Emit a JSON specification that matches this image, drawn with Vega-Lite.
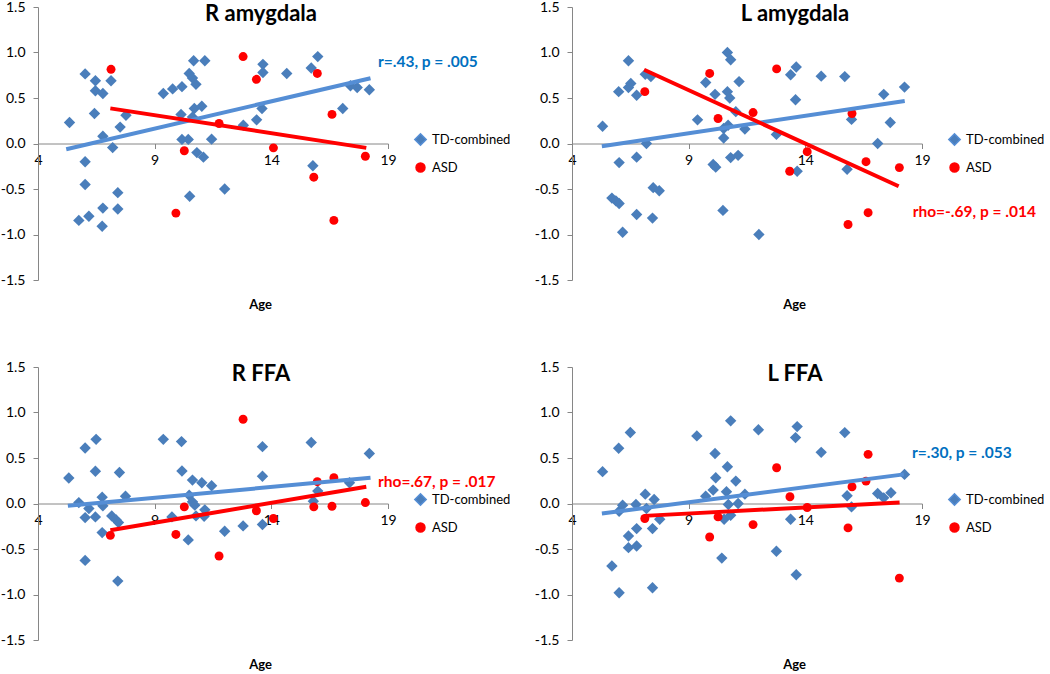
{
  "$schema": "https://vega.github.io/schema/vega-lite/v6.json",
  "padding": {"top": 0, "left": 0, "right": 0, "bottom": 0},
  "background": "white",
  "config": {
    "view": {"stroke": null},
    "font": "Lato",
    "axis": {"grid": false, "domainColor": "#868686", "tickColor": "#868686", "labelColor": "#000000", "labelFont": "Lato", "labelFontSize": 14, "titleFont": "Lato", "titleColor": "#000000"},
    "legend": {"labelFont": "Lato", "labelColor": "#000000"},
    "title": {"font": "Lato", "fontSize": 22, "fontWeight": "bold", "color": "#000000", "anchor": "middle", "dx": 48, "dy": 30}
  },
  "datasets": {
    "pts": [
      {"panel":"RA","group":"TD-combined","age":5.35,"value":0.23},{"panel":"RA","group":"TD-combined","age":6.02,"value":0.765},{"panel":"RA","group":"TD-combined","age":6.02,"value":-0.2},{"panel":"RA","group":"TD-combined","age":6.02,"value":-0.45},{"panel":"RA","group":"TD-combined","age":5.75,"value":-0.845},{"panel":"RA","group":"TD-combined","age":6.18,"value":-0.8},{"panel":"RA","group":"TD-combined","age":6.46,"value":0.69},{"panel":"RA","group":"TD-combined","age":6.46,"value":0.58},{"panel":"RA","group":"TD-combined","age":6.42,"value":0.33},{"panel":"RA","group":"TD-combined","age":6.78,"value":0.55},{"panel":"RA","group":"TD-combined","age":6.78,"value":0.08},{"panel":"RA","group":"TD-combined","age":6.78,"value":-0.71},{"panel":"RA","group":"TD-combined","age":6.75,"value":-0.91},{"panel":"RA","group":"TD-combined","age":7.13,"value":0.69},{"panel":"RA","group":"TD-combined","age":7.2,"value":-0.045},{"panel":"RA","group":"TD-combined","age":7.52,"value":0.18},{"panel":"RA","group":"TD-combined","age":7.42,"value":-0.54},{"panel":"RA","group":"TD-combined","age":7.42,"value":-0.72},{"panel":"RA","group":"TD-combined","age":7.77,"value":0.31},{"panel":"RA","group":"TD-combined","age":9.37,"value":0.55},{"panel":"RA","group":"TD-combined","age":9.77,"value":0.6},{"panel":"RA","group":"TD-combined","age":10.17,"value":0.625},{"panel":"RA","group":"TD-combined","age":10.13,"value":0.32},{"panel":"RA","group":"TD-combined","age":10.17,"value":0.045},{"panel":"RA","group":"TD-combined","age":10.44,"value":0.045},{"panel":"RA","group":"TD-combined","age":10.48,"value":0.77},{"panel":"RA","group":"TD-combined","age":10.62,"value":0.72},{"panel":"RA","group":"TD-combined","age":10.67,"value":0.91},{"panel":"RA","group":"TD-combined","age":10.77,"value":0.65},{"panel":"RA","group":"TD-combined","age":10.7,"value":0.385},{"panel":"RA","group":"TD-combined","age":10.62,"value":0.29},{"panel":"RA","group":"TD-combined","age":11.02,"value":0.41},{"panel":"RA","group":"TD-combined","age":10.81,"value":-0.1},{"panel":"RA","group":"TD-combined","age":11.09,"value":-0.15},{"panel":"RA","group":"TD-combined","age":11.15,"value":0.91},{"panel":"RA","group":"TD-combined","age":10.5,"value":-0.58},{"panel":"RA","group":"TD-combined","age":11.44,"value":0.048},{"panel":"RA","group":"TD-combined","age":12.0,"value":-0.5},{"panel":"RA","group":"TD-combined","age":12.8,"value":0.2},{"panel":"RA","group":"TD-combined","age":13.37,"value":0.26},{"panel":"RA","group":"TD-combined","age":13.6,"value":0.385},{"panel":"RA","group":"TD-combined","age":13.64,"value":0.78},{"panel":"RA","group":"TD-combined","age":13.64,"value":0.87},{"panel":"RA","group":"TD-combined","age":14.66,"value":0.77},{"panel":"RA","group":"TD-combined","age":15.71,"value":0.83},{"panel":"RA","group":"TD-combined","age":15.99,"value":0.955},{"panel":"RA","group":"TD-combined","age":15.78,"value":-0.245},{"panel":"RA","group":"TD-combined","age":17.06,"value":0.385},{"panel":"RA","group":"TD-combined","age":17.39,"value":0.635},{"panel":"RA","group":"TD-combined","age":17.68,"value":0.615},{"panel":"RA","group":"TD-combined","age":18.2,"value":0.59},
      {"panel":"RA","group":"ASD","age":7.13,"value":0.815},{"panel":"RA","group":"ASD","age":9.91,"value":-0.765},{"panel":"RA","group":"ASD","age":10.27,"value":-0.08},{"panel":"RA","group":"ASD","age":11.76,"value":0.22},{"panel":"RA","group":"ASD","age":12.79,"value":0.955},{"panel":"RA","group":"ASD","age":13.36,"value":0.705},{"panel":"RA","group":"ASD","age":14.09,"value":-0.048},{"panel":"RA","group":"ASD","age":15.82,"value":-0.37},{"panel":"RA","group":"ASD","age":15.97,"value":0.77},{"panel":"RA","group":"ASD","age":16.6,"value":0.32},{"panel":"RA","group":"ASD","age":16.68,"value":-0.845},{"panel":"RA","group":"ASD","age":18.03,"value":-0.14},

      {"panel":"LA","group":"TD-combined","age":5.31,"value":0.19},{"panel":"LA","group":"TD-combined","age":5.71,"value":-0.6},{"panel":"LA","group":"TD-combined","age":5.88,"value":-0.63},{"panel":"LA","group":"TD-combined","age":6.02,"value":-0.66},{"panel":"LA","group":"TD-combined","age":6.0,"value":0.57},{"panel":"LA","group":"TD-combined","age":6.02,"value":-0.21},{"panel":"LA","group":"TD-combined","age":6.17,"value":-0.975},{"panel":"LA","group":"TD-combined","age":6.42,"value":0.91},{"panel":"LA","group":"TD-combined","age":6.42,"value":0.615},{"panel":"LA","group":"TD-combined","age":6.52,"value":0.66},{"panel":"LA","group":"TD-combined","age":6.77,"value":0.53},{"panel":"LA","group":"TD-combined","age":6.77,"value":-0.15},{"panel":"LA","group":"TD-combined","age":6.77,"value":-0.78},{"panel":"LA","group":"TD-combined","age":7.14,"value":0.76},{"panel":"LA","group":"TD-combined","age":7.19,"value":0.0},{"panel":"LA","group":"TD-combined","age":7.38,"value":0.735},{"panel":"LA","group":"TD-combined","age":7.48,"value":-0.485},{"panel":"LA","group":"TD-combined","age":7.74,"value":-0.52},{"panel":"LA","group":"TD-combined","age":7.45,"value":-0.82},{"panel":"LA","group":"TD-combined","age":9.38,"value":0.26},{"panel":"LA","group":"TD-combined","age":9.73,"value":0.67},{"panel":"LA","group":"TD-combined","age":10.13,"value":0.54},{"panel":"LA","group":"TD-combined","age":10.05,"value":-0.23},{"panel":"LA","group":"TD-combined","age":10.16,"value":-0.26},{"panel":"LA","group":"TD-combined","age":10.5,"value":0.06},{"panel":"LA","group":"TD-combined","age":10.5,"value":0.165},{"panel":"LA","group":"TD-combined","age":10.47,"value":-0.735},{"panel":"LA","group":"TD-combined","age":10.66,"value":1.0},{"panel":"LA","group":"TD-combined","age":10.8,"value":0.92},{"panel":"LA","group":"TD-combined","age":10.66,"value":0.57},{"panel":"LA","group":"TD-combined","age":10.76,"value":0.5},{"panel":"LA","group":"TD-combined","age":10.69,"value":0.2},{"panel":"LA","group":"TD-combined","age":10.8,"value":-0.155},{"panel":"LA","group":"TD-combined","age":11.02,"value":0.35},{"panel":"LA","group":"TD-combined","age":11.12,"value":-0.13},{"panel":"LA","group":"TD-combined","age":11.16,"value":0.68},{"panel":"LA","group":"TD-combined","age":11.41,"value":0.158},{"panel":"LA","group":"TD-combined","age":12.01,"value":-1.0},{"panel":"LA","group":"TD-combined","age":12.76,"value":0.1},{"panel":"LA","group":"TD-combined","age":13.37,"value":0.755},{"panel":"LA","group":"TD-combined","age":13.61,"value":0.84},{"panel":"LA","group":"TD-combined","age":13.58,"value":0.48},{"panel":"LA","group":"TD-combined","age":13.65,"value":-0.305},{"panel":"LA","group":"TD-combined","age":14.68,"value":0.74},{"panel":"LA","group":"TD-combined","age":15.69,"value":0.735},{"panel":"LA","group":"TD-combined","age":15.79,"value":-0.283},{"panel":"LA","group":"TD-combined","age":15.98,"value":0.265},{"panel":"LA","group":"TD-combined","age":17.1,"value":0.0},{"panel":"LA","group":"TD-combined","age":17.36,"value":0.54},{"panel":"LA","group":"TD-combined","age":17.64,"value":0.23},{"panel":"LA","group":"TD-combined","age":18.25,"value":0.62},
      {"panel":"LA","group":"ASD","age":7.12,"value":0.57},{"panel":"LA","group":"ASD","age":9.9,"value":0.77},{"panel":"LA","group":"ASD","age":10.26,"value":0.275},{"panel":"LA","group":"ASD","age":11.76,"value":0.34},{"panel":"LA","group":"ASD","age":12.77,"value":0.82},{"panel":"LA","group":"ASD","age":13.33,"value":-0.305},{"panel":"LA","group":"ASD","age":14.08,"value":-0.09},{"panel":"LA","group":"ASD","age":15.83,"value":-0.89},{"panel":"LA","group":"ASD","age":16.0,"value":0.33},{"panel":"LA","group":"ASD","age":16.6,"value":-0.2},{"panel":"LA","group":"ASD","age":16.69,"value":-0.76},{"panel":"LA","group":"ASD","age":18.03,"value":-0.265},

      {"panel":"RF","group":"TD-combined","age":5.32,"value":0.28},{"panel":"RF","group":"TD-combined","age":5.75,"value":0.01},{"panel":"RF","group":"TD-combined","age":6.02,"value":0.61},{"panel":"RF","group":"TD-combined","age":6.02,"value":-0.155},{"panel":"RF","group":"TD-combined","age":6.02,"value":-0.625},{"panel":"RF","group":"TD-combined","age":6.18,"value":-0.055},{"panel":"RF","group":"TD-combined","age":6.49,"value":0.705},{"panel":"RF","group":"TD-combined","age":6.46,"value":0.355},{"panel":"RF","group":"TD-combined","age":6.46,"value":-0.147},{"panel":"RF","group":"TD-combined","age":6.75,"value":0.07},{"panel":"RF","group":"TD-combined","age":6.78,"value":-0.026},{"panel":"RF","group":"TD-combined","age":6.75,"value":-0.32},{"panel":"RF","group":"TD-combined","age":7.16,"value":-0.136},{"panel":"RF","group":"TD-combined","age":7.35,"value":-0.18},{"panel":"RF","group":"TD-combined","age":7.45,"value":-0.21},{"panel":"RF","group":"TD-combined","age":7.49,"value":0.34},{"panel":"RF","group":"TD-combined","age":7.42,"value":-0.853},{"panel":"RF","group":"TD-combined","age":7.75,"value":0.08},{"panel":"RF","group":"TD-combined","age":9.37,"value":0.705},{"panel":"RF","group":"TD-combined","age":9.74,"value":-0.147},{"panel":"RF","group":"TD-combined","age":10.15,"value":0.68},{"panel":"RF","group":"TD-combined","age":10.17,"value":0.357},{"panel":"RF","group":"TD-combined","age":10.48,"value":0.09},{"panel":"RF","group":"TD-combined","age":10.44,"value":-0.4},{"panel":"RF","group":"TD-combined","age":10.62,"value":0.257},{"panel":"RF","group":"TD-combined","age":10.62,"value":0.018},{"panel":"RF","group":"TD-combined","age":10.72,"value":-0.018},{"panel":"RF","group":"TD-combined","age":10.77,"value":-0.136},{"panel":"RF","group":"TD-combined","age":11.02,"value":0.228},{"panel":"RF","group":"TD-combined","age":11.12,"value":-0.14},{"panel":"RF","group":"TD-combined","age":11.15,"value":-0.07},{"panel":"RF","group":"TD-combined","age":11.44,"value":0.195},{"panel":"RF","group":"TD-combined","age":12.0,"value":-0.305},{"panel":"RF","group":"TD-combined","age":12.79,"value":-0.246},{"panel":"RF","group":"TD-combined","age":13.62,"value":0.625},{"panel":"RF","group":"TD-combined","age":13.62,"value":0.3},{"panel":"RF","group":"TD-combined","age":13.62,"value":-0.23},{"panel":"RF","group":"TD-combined","age":15.71,"value":0.67},{"panel":"RF","group":"TD-combined","age":15.8,"value":0.026},{"panel":"RF","group":"TD-combined","age":15.99,"value":0.136},{"panel":"RF","group":"TD-combined","age":17.35,"value":0.228},{"panel":"RF","group":"TD-combined","age":18.2,"value":0.55},
      {"panel":"RF","group":"ASD","age":7.1,"value":-0.35},{"panel":"RF","group":"ASD","age":9.91,"value":-0.34},{"panel":"RF","group":"ASD","age":10.27,"value":-0.037},{"panel":"RF","group":"ASD","age":11.76,"value":-0.577},{"panel":"RF","group":"ASD","age":12.79,"value":0.926},{"panel":"RF","group":"ASD","age":13.36,"value":-0.08},{"panel":"RF","group":"ASD","age":14.09,"value":-0.165},{"panel":"RF","group":"ASD","age":15.82,"value":-0.037},{"panel":"RF","group":"ASD","age":15.97,"value":0.24},{"panel":"RF","group":"ASD","age":16.6,"value":-0.03},{"panel":"RF","group":"ASD","age":16.68,"value":0.283},{"panel":"RF","group":"ASD","age":18.03,"value":0.01},

      {"panel":"LF","group":"TD-combined","age":5.31,"value":0.35},{"panel":"LF","group":"TD-combined","age":5.71,"value":-0.687},{"panel":"LF","group":"TD-combined","age":6.0,"value":0.607},{"panel":"LF","group":"TD-combined","age":6.02,"value":-0.98},{"panel":"LF","group":"TD-combined","age":6.02,"value":-0.085},{"panel":"LF","group":"TD-combined","age":6.17,"value":-0.018},{"panel":"LF","group":"TD-combined","age":6.42,"value":-0.357},{"panel":"LF","group":"TD-combined","age":6.42,"value":-0.485},{"panel":"LF","group":"TD-combined","age":6.5,"value":0.78},{"panel":"LF","group":"TD-combined","age":6.74,"value":-0.011},{"panel":"LF","group":"TD-combined","age":6.77,"value":-0.276},{"panel":"LF","group":"TD-combined","age":6.77,"value":-0.467},{"panel":"LF","group":"TD-combined","age":7.14,"value":0.103},{"panel":"LF","group":"TD-combined","age":7.19,"value":-0.055},{"panel":"LF","group":"TD-combined","age":7.45,"value":-0.276},{"panel":"LF","group":"TD-combined","age":7.45,"value":-0.926},{"panel":"LF","group":"TD-combined","age":7.52,"value":0.044},{"panel":"LF","group":"TD-combined","age":7.76,"value":-0.173},{"panel":"LF","group":"TD-combined","age":9.35,"value":0.743},{"panel":"LF","group":"TD-combined","age":9.73,"value":0.081},{"panel":"LF","group":"TD-combined","age":10.05,"value":0.147},{"panel":"LF","group":"TD-combined","age":10.13,"value":0.55},{"panel":"LF","group":"TD-combined","age":10.16,"value":0.283},{"panel":"LF","group":"TD-combined","age":10.42,"value":-0.6},{"panel":"LF","group":"TD-combined","age":10.52,"value":-0.173},{"panel":"LF","group":"TD-combined","age":10.62,"value":0.129},{"panel":"LF","group":"TD-combined","age":10.66,"value":0.404},{"panel":"LF","group":"TD-combined","age":10.8,"value":0.908},{"panel":"LF","group":"TD-combined","age":10.7,"value":-0.011},{"panel":"LF","group":"TD-combined","age":10.8,"value":-0.129},{"panel":"LF","group":"TD-combined","age":11.02,"value":0.246},{"panel":"LF","group":"TD-combined","age":11.12,"value":0.0},{"panel":"LF","group":"TD-combined","age":11.41,"value":0.103},{"panel":"LF","group":"TD-combined","age":11.99,"value":0.81},{"panel":"LF","group":"TD-combined","age":12.76,"value":-0.525},{"panel":"LF","group":"TD-combined","age":13.37,"value":-0.173},{"panel":"LF","group":"TD-combined","age":13.58,"value":0.724},{"panel":"LF","group":"TD-combined","age":13.65,"value":0.845},{"panel":"LF","group":"TD-combined","age":13.61,"value":-0.783},{"panel":"LF","group":"TD-combined","age":14.68,"value":0.562},{"panel":"LF","group":"TD-combined","age":15.69,"value":0.779},{"panel":"LF","group":"TD-combined","age":15.79,"value":0.085},{"panel":"LF","group":"TD-combined","age":15.98,"value":-0.037},{"panel":"LF","group":"TD-combined","age":17.1,"value":0.11},{"panel":"LF","group":"TD-combined","age":17.36,"value":0.062},{"panel":"LF","group":"TD-combined","age":17.67,"value":0.118},{"panel":"LF","group":"TD-combined","age":18.25,"value":0.32},
      {"panel":"LF","group":"ASD","age":7.12,"value":-0.165},{"panel":"LF","group":"ASD","age":9.9,"value":-0.368},{"panel":"LF","group":"ASD","age":10.26,"value":-0.147},{"panel":"LF","group":"ASD","age":11.76,"value":-0.232},{"panel":"LF","group":"ASD","age":12.77,"value":0.393},{"panel":"LF","group":"ASD","age":13.34,"value":0.074},{"panel":"LF","group":"ASD","age":14.08,"value":-0.044},{"panel":"LF","group":"ASD","age":15.83,"value":-0.268},{"panel":"LF","group":"ASD","age":16.0,"value":0.184},{"panel":"LF","group":"ASD","age":16.6,"value":0.246},{"panel":"LF","group":"ASD","age":16.69,"value":0.54},{"panel":"LF","group":"ASD","age":18.03,"value":-0.82}
    ],
    "lines": [
      {"panel":"RA","group":"TD-combined","age":5.21,"value":-0.0625},{"panel":"RA","group":"TD-combined","age":18.25,"value":0.717},
      {"panel":"RA","group":"ASD","age":7.1,"value":0.386},{"panel":"RA","group":"ASD","age":18.07,"value":-0.048},
      {"panel":"LA","group":"TD-combined","age":5.28,"value":-0.03},{"panel":"LA","group":"TD-combined","age":18.26,"value":0.467},
      {"panel":"LA","group":"ASD","age":7.09,"value":0.81},{"panel":"LA","group":"ASD","age":18.0,"value":-0.47},
      {"panel":"RF","group":"TD-combined","age":5.28,"value":-0.026},{"panel":"RF","group":"TD-combined","age":18.25,"value":0.283},
      {"panel":"RF","group":"ASD","age":7.1,"value":-0.294},{"panel":"RF","group":"ASD","age":18.07,"value":0.184},
      {"panel":"LF","group":"TD-combined","age":5.28,"value":-0.11},{"panel":"LF","group":"TD-combined","age":18.22,"value":0.32},
      {"panel":"LF","group":"ASD","age":7.09,"value":-0.136},{"panel":"LF","group":"ASD","age":18.04,"value":0.011}
    ],
    "notes": [
      {"panel":"RA","label":"r=.43, p = .005","age":18.57,"value":0.9},
      {"panel":"LA","label":"rho=-.69, p = .014","age":18.6,"value":-0.75},
      {"panel":"RF","label":"rho=.67, p = .017","age":18.57,"value":0.24},
      {"panel":"LF","label":"r=.30, p = .053","age":18.57,"value":0.55}
    ]
  },
  "resolve": {"scale": {"color": "independent", "shape": "independent", "size": "independent", "stroke": "independent"}},
  "spacing": 48,
  "vconcat": [
    {
      "spacing": 23,
      "resolve": {"scale": {"color": "independent", "shape": "independent", "size": "independent", "stroke": "independent"}},
      "hconcat": [
        {
          "width": 350, "height": 273,
          "title": {"text": "R amygdala"},
          "layer": [
            {"data": {"name": "pts"}, "transform": [{"filter": "datum.panel === 'RA'"}],
             "mark": {"type": "point", "filled": true, "opacity": 1, "strokeWidth": 0},
             "encoding": {
               "x": {"field": "age", "type": "quantitative", "scale": {"domain": [4, 19], "nice": false, "zero": false},
                     "axis": {"values": [4, 9, 14, 19], "offset": -136.5, "tickSize": 5, "labelPadding": 5, "labelFlush": false, "title": "Age", "titleFontSize": 13, "titleFontWeight": "bold", "titleX": 222, "titleY": 155}},
               "y": {"field": "value", "type": "quantitative", "scale": {"domain": [-1.5, 1.5], "nice": false},
                     "axis": {"values": [-1.5, -1, -0.5, 0, 0.5, 1, 1.5], "labelExpr": "replace(format(datum.value, '.1f'), '\u2212', '-')", "tickSize": 5, "labelPadding": 8, "title": null}},
               "color": {"field": "group", "type": "nominal", "scale": {"domain": ["TD-combined", "ASD"], "range": ["#4A7EBB", "#FF0000"]},
                         "legend": {"orient": "none", "legendX": 376, "legendY": 126, "title": null, "labelFontSize": 13, "symbolSize": 90, "rowPadding": 11, "labelOffset": 5, "padding": 0}},
               "shape": {"field": "group", "type": "nominal", "scale": {"domain": ["TD-combined", "ASD"], "range": ["diamond", "circle"]}},
               "size": {"field": "group", "type": "nominal", "scale": {"domain": ["TD-combined", "ASD"], "range": [130, 80]}, "legend": null}
             }},
            {"data": {"name": "lines"}, "transform": [{"filter": "datum.panel === 'RA'"}],
             "mark": {"type": "line", "strokeWidth": 4, "strokeCap": "butt"},
             "encoding": {
               "x": {"field": "age", "type": "quantitative"},
               "y": {"field": "value", "type": "quantitative"},
               "stroke": {"field": "group", "type": "nominal", "sort": null, "scale": {"domain": ["TD-combined", "ASD"], "range": ["#558ED5", "#FF0000"]}, "legend": null}
             }},
            {"data": {"name": "notes"}, "transform": [{"filter": "datum.panel === 'RA'"}],
             "mark": {"type": "text", "align": "left", "baseline": "middle", "fontSize": 15.5, "fontWeight": "bold", "color": "#0070C0"},
             "encoding": {"x": {"field": "age", "type": "quantitative"}, "y": {"field": "value", "type": "quantitative"}, "text": {"field": "label"}}}
          ]
        },
        {
          "width": 350, "height": 273,
          "title": {"text": "L amygdala"},
          "layer": [
            {"data": {"name": "pts"}, "transform": [{"filter": "datum.panel === 'LA'"}],
             "mark": {"type": "point", "filled": true, "opacity": 1, "strokeWidth": 0},
             "encoding": {
               "x": {"field": "age", "type": "quantitative", "scale": {"domain": [4, 19], "nice": false, "zero": false},
                     "axis": {"values": [4, 9, 14, 19], "offset": -136.5, "tickSize": 5, "labelPadding": 5, "labelFlush": false, "title": "Age", "titleFontSize": 13, "titleFontWeight": "bold", "titleX": 222, "titleY": 155}},
               "y": {"field": "value", "type": "quantitative", "scale": {"domain": [-1.5, 1.5], "nice": false},
                     "axis": {"values": [-1.5, -1, -0.5, 0, 0.5, 1, 1.5], "labelExpr": "replace(format(datum.value, '.1f'), '\u2212', '-')", "tickSize": 5, "labelPadding": 8, "title": null}},
               "color": {"field": "group", "type": "nominal", "scale": {"domain": ["TD-combined", "ASD"], "range": ["#4A7EBB", "#FF0000"]},
                         "legend": {"orient": "none", "legendX": 376, "legendY": 126, "title": null, "labelFontSize": 13, "symbolSize": 90, "rowPadding": 11, "labelOffset": 5, "padding": 0}},
               "shape": {"field": "group", "type": "nominal", "scale": {"domain": ["TD-combined", "ASD"], "range": ["diamond", "circle"]}},
               "size": {"field": "group", "type": "nominal", "scale": {"domain": ["TD-combined", "ASD"], "range": [130, 80]}, "legend": null}
             }},
            {"data": {"name": "lines"}, "transform": [{"filter": "datum.panel === 'LA'"}],
             "mark": {"type": "line", "strokeWidth": 4, "strokeCap": "butt"},
             "encoding": {
               "x": {"field": "age", "type": "quantitative"},
               "y": {"field": "value", "type": "quantitative"},
               "stroke": {"field": "group", "type": "nominal", "sort": null, "scale": {"domain": ["TD-combined", "ASD"], "range": ["#558ED5", "#FF0000"]}, "legend": null}
             }},
            {"data": {"name": "notes"}, "transform": [{"filter": "datum.panel === 'LA'"}],
             "mark": {"type": "text", "align": "left", "baseline": "middle", "fontSize": 15.5, "fontWeight": "bold", "color": "#FF0000"},
             "encoding": {"x": {"field": "age", "type": "quantitative"}, "y": {"field": "value", "type": "quantitative"}, "text": {"field": "label"}}}
          ]
        }
      ]
    },
    {
      "spacing": 23,
      "resolve": {"scale": {"color": "independent", "shape": "independent", "size": "independent", "stroke": "independent"}},
      "hconcat": [
        {
          "width": 350, "height": 273,
          "title": {"text": "R FFA"},
          "layer": [
            {"data": {"name": "pts"}, "transform": [{"filter": "datum.panel === 'RF'"}],
             "mark": {"type": "point", "filled": true, "opacity": 1, "strokeWidth": 0},
             "encoding": {
               "x": {"field": "age", "type": "quantitative", "scale": {"domain": [4, 19], "nice": false, "zero": false},
                     "axis": {"values": [4, 9, 14, 19], "offset": -136.5, "tickSize": 5, "labelPadding": 5, "labelFlush": false, "title": "Age", "titleFontSize": 13, "titleFontWeight": "bold", "titleX": 222, "titleY": 155}},
               "y": {"field": "value", "type": "quantitative", "scale": {"domain": [-1.5, 1.5], "nice": false},
                     "axis": {"values": [-1.5, -1, -0.5, 0, 0.5, 1, 1.5], "labelExpr": "replace(format(datum.value, '.1f'), '\u2212', '-')", "tickSize": 5, "labelPadding": 8, "title": null}},
               "color": {"field": "group", "type": "nominal", "scale": {"domain": ["TD-combined", "ASD"], "range": ["#4A7EBB", "#FF0000"]},
                         "legend": {"orient": "none", "legendX": 376, "legendY": 126, "title": null, "labelFontSize": 13, "symbolSize": 90, "rowPadding": 11, "labelOffset": 5, "padding": 0}},
               "shape": {"field": "group", "type": "nominal", "scale": {"domain": ["TD-combined", "ASD"], "range": ["diamond", "circle"]}},
               "size": {"field": "group", "type": "nominal", "scale": {"domain": ["TD-combined", "ASD"], "range": [130, 80]}, "legend": null}
             }},
            {"data": {"name": "lines"}, "transform": [{"filter": "datum.panel === 'RF'"}],
             "mark": {"type": "line", "strokeWidth": 4, "strokeCap": "butt"},
             "encoding": {
               "x": {"field": "age", "type": "quantitative"},
               "y": {"field": "value", "type": "quantitative"},
               "stroke": {"field": "group", "type": "nominal", "sort": null, "scale": {"domain": ["TD-combined", "ASD"], "range": ["#558ED5", "#FF0000"]}, "legend": null}
             }},
            {"data": {"name": "notes"}, "transform": [{"filter": "datum.panel === 'RF'"}],
             "mark": {"type": "text", "align": "left", "baseline": "middle", "fontSize": 15.5, "fontWeight": "bold", "color": "#FF0000"},
             "encoding": {"x": {"field": "age", "type": "quantitative"}, "y": {"field": "value", "type": "quantitative"}, "text": {"field": "label"}}}
          ]
        },
        {
          "width": 350, "height": 273,
          "title": {"text": "L FFA"},
          "layer": [
            {"data": {"name": "pts"}, "transform": [{"filter": "datum.panel === 'LF'"}],
             "mark": {"type": "point", "filled": true, "opacity": 1, "strokeWidth": 0},
             "encoding": {
               "x": {"field": "age", "type": "quantitative", "scale": {"domain": [4, 19], "nice": false, "zero": false},
                     "axis": {"values": [4, 9, 14, 19], "offset": -136.5, "tickSize": 5, "labelPadding": 5, "labelFlush": false, "title": "Age", "titleFontSize": 13, "titleFontWeight": "bold", "titleX": 222, "titleY": 155}},
               "y": {"field": "value", "type": "quantitative", "scale": {"domain": [-1.5, 1.5], "nice": false},
                     "axis": {"values": [-1.5, -1, -0.5, 0, 0.5, 1, 1.5], "labelExpr": "replace(format(datum.value, '.1f'), '\u2212', '-')", "tickSize": 5, "labelPadding": 8, "title": null}},
               "color": {"field": "group", "type": "nominal", "scale": {"domain": ["TD-combined", "ASD"], "range": ["#4A7EBB", "#FF0000"]},
                         "legend": {"orient": "none", "legendX": 376, "legendY": 126, "title": null, "labelFontSize": 13, "symbolSize": 90, "rowPadding": 11, "labelOffset": 5, "padding": 0}},
               "shape": {"field": "group", "type": "nominal", "scale": {"domain": ["TD-combined", "ASD"], "range": ["diamond", "circle"]}},
               "size": {"field": "group", "type": "nominal", "scale": {"domain": ["TD-combined", "ASD"], "range": [130, 80]}, "legend": null}
             }},
            {"data": {"name": "lines"}, "transform": [{"filter": "datum.panel === 'LF'"}],
             "mark": {"type": "line", "strokeWidth": 4, "strokeCap": "butt"},
             "encoding": {
               "x": {"field": "age", "type": "quantitative"},
               "y": {"field": "value", "type": "quantitative"},
               "stroke": {"field": "group", "type": "nominal", "sort": null, "scale": {"domain": ["TD-combined", "ASD"], "range": ["#558ED5", "#FF0000"]}, "legend": null}
             }},
            {"data": {"name": "notes"}, "transform": [{"filter": "datum.panel === 'LF'"}],
             "mark": {"type": "text", "align": "left", "baseline": "middle", "fontSize": 15.5, "fontWeight": "bold", "color": "#0070C0"},
             "encoding": {"x": {"field": "age", "type": "quantitative"}, "y": {"field": "value", "type": "quantitative"}, "text": {"field": "label"}}}
          ]
        }
      ]
    }
  ]
}
